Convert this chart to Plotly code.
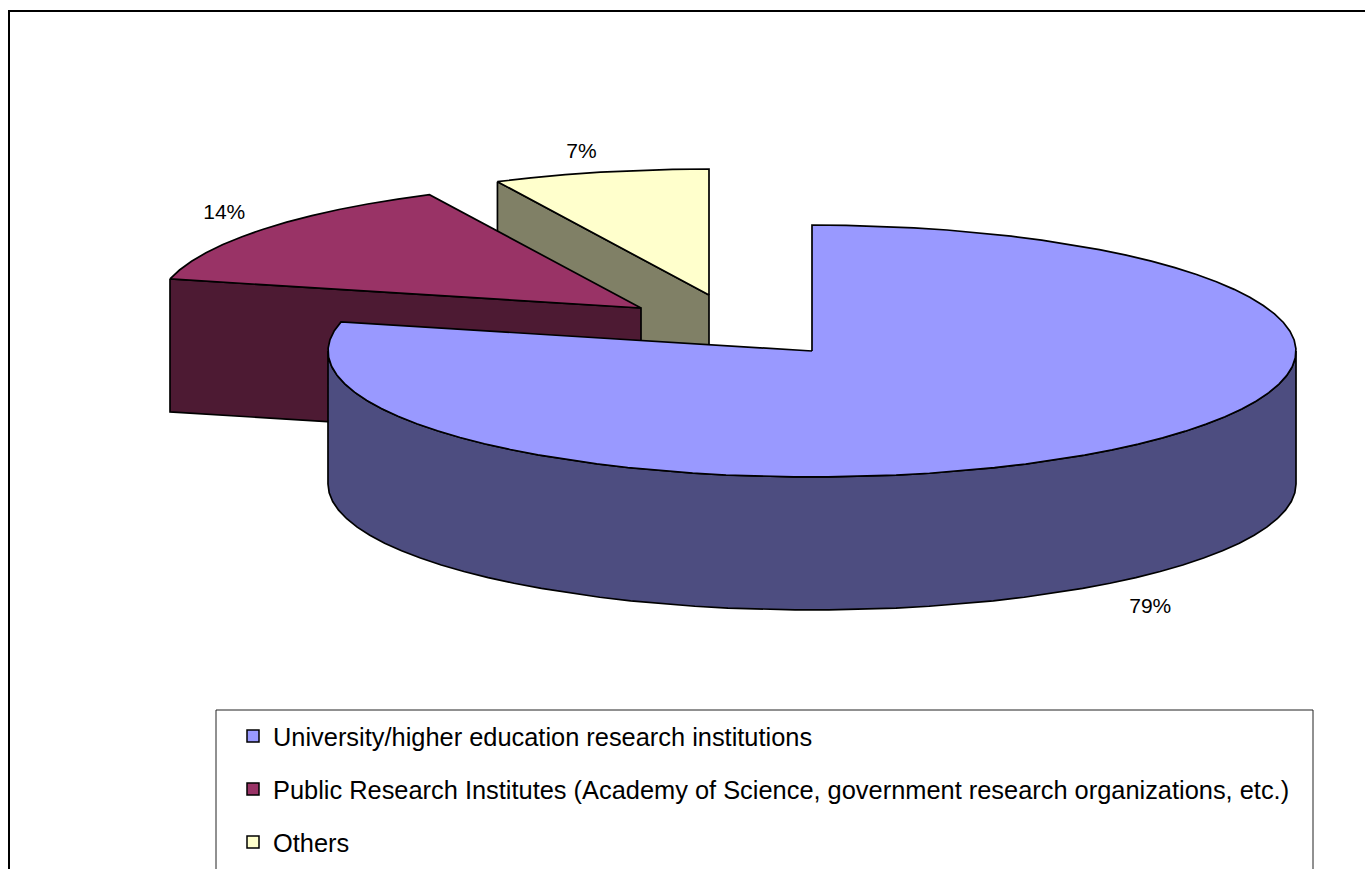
import numpy as np
import plotly.graph_objects as go

categories = [
    "University/higher education research institutions",
    "Public Research Institutes (Academy of Science, government research organizations, etc.)",
    "Others",
]
shares = [78.7, 14.1, 7.2]

top_colors = ["#9999FF", "#993366", "#FFFFCC"]
side_colors = ["#4D4D80", "#4D1A33", "#808066"]

W, H = 1365, 869
RX, RY, DEPTH = 484, 126, 133
CENTERS = [(812, 351), (641, 308), (709, 295)]
LABEL_OFFSET = [(38, 158), (-39, -15), (-19, -19)]
FONT = "Liberation Sans, Arial, sans-serif"
LINE = dict(color="black", width=1.7)


def rim(cx, cy, a0, a1, step=4.0):
    n = max(2, int(abs(a1 - a0) / step) + 1)
    t = np.radians(np.linspace(a0, a1, n))
    return cx + RX * np.sin(t), cy - RY * np.cos(t)


def poly(fig, x, y, color):
    fig.add_trace(go.Scatter(
        x=list(x) + [x[0]], y=list(y) + [y[0]], mode="lines", fill="toself",
        fillcolor=color, line=LINE, showlegend=False, hoverinfo="skip"))


edges = np.concatenate([[0], np.cumsum(shares)]) * 3.6
fig = go.Figure()

# painter's order: back slices first, front slice last
for i in [2, 1, 0]:
    cx, cy = CENTERS[i]
    a0, a1 = edges[i], edges[i + 1]
    if i == 0:
        xs, ys = rim(cx, cy, 90, 270)
        poly(fig, np.r_[xs, xs[::-1]], np.r_[ys, ys[::-1] + DEPTH], side_colors[i])
    else:
        sx, sy = rim(cx, cy, a0, a0)
        poly(fig, [sx[0], cx, cx, sx[0]], [sy[0], cy, cy + DEPTH, sy[0] + DEPTH], side_colors[i])
    xs, ys = rim(cx, cy, a0, a1)
    poly(fig, np.r_[cx, xs], np.r_[cy, ys], top_colors[i])

# value labels
lab_x, lab_y, lab_t = [], [], []
for i, v in enumerate(shares):
    mid = (edges[i] + edges[i + 1]) / 2
    mx, my = rim(CENTERS[i][0], CENTERS[i][1], mid, mid)
    lab_x.append(mx[0] + LABEL_OFFSET[i][0])
    lab_y.append(my[0] + LABEL_OFFSET[i][1])
    lab_t.append(f"{round(v)}%")
fig.add_trace(go.Scatter(x=lab_x, y=lab_y, text=lab_t, mode="text", textposition="middle center",
                         textfont=dict(family=FONT, size=21, color="black"),
                         showlegend=False, hoverinfo="skip"))

# legend entries
for name, c in zip(categories, top_colors):
    fig.add_trace(go.Scatter(
        x=[None], y=[None], mode="markers", name=name, legendgroup=name,
        marker=dict(symbol="square", size=12, color=c, line=dict(color="black", width=1.5))))

fig.update_layout(
    width=W, height=H, margin=dict(l=0, r=0, t=0, b=0, autoexpand=False),
    autosize=False, paper_bgcolor="white", plot_bgcolor="white",
    xaxis=dict(range=[0, W], visible=False, fixedrange=True),
    yaxis=dict(range=[H, 0], visible=False, fixedrange=True),
    legend=dict(x=233 / W, y=1 - 713 / H, xanchor="left", yanchor="top",
                bgcolor="rgba(0,0,0,0)", borderwidth=0, tracegroupgap=17,
                font=dict(family=FONT, size=25.4, color="black"), traceorder="grouped"),
    shapes=[
        dict(type="rect", xref="x", yref="y", x0=9, y0=11, x1=W + 30, y1=H + 30,
             line=dict(color="black", width=2), layer="below"),
        dict(type="rect", xref="x", yref="y", x0=216, y0=710, x1=1313, y1=H + 30,
             line=dict(color="#222222", width=1), layer="below"),
    ],
)
fig.write_html("out.html", config={"displayModeBar": False},
               post_script="document.body.style.margin='0';document.body.style.overflow='hidden';")
